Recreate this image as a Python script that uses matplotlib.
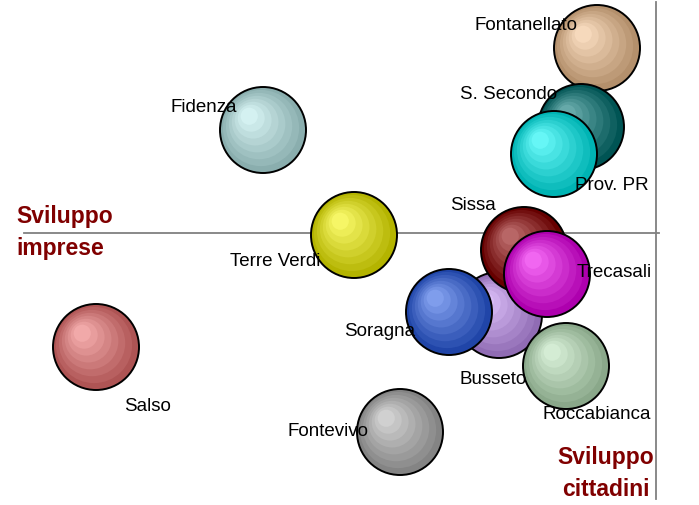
import numpy as np
import matplotlib
matplotlib.use("Agg")
import matplotlib.pyplot as plt
from matplotlib.patches import Circle
from matplotlib.colors import to_rgb

plt.rcParams['font.family'] = ['Liberation Sans', 'DejaVu Sans']

# dati: comuni, sviluppo cittadini (x), sviluppo imprese (y)
comuni = ["Salso", "Fidenza", "Terre Verdi", "Fontevivo", "Fontanellato",
          "S. Secondo", "Prov. PR", "Busseto", "Sissa", "Soragna",
          "Trecasali", "Roccabianca"]
x_vals = [-5.60, -3.93, -3.02, -2.56, -0.59, -0.75, -1.02, -1.57, -1.32, -2.07, -1.09, -0.90]
y_vals = [-1.14, 1.03, -0.02, -1.99, 1.85, 1.06, 0.79, -0.82, -0.17, -0.79, -0.41, -1.33]
colori = ["#E87070", "#B8E8E8", "#F0F000", "#B0B0B0", "#F0C090",
          "#007070", "#00F0F0", "#C090F0", "#880000", "#2A5CE0",
          "#E800E8", "#B8E0B8"]
# posizione etichette (offset in pixel, allineamento)
lab_off = [(28, -59, 'left'), (-26, 23, 'right'), (-34, -26, 'right'), (-31, 1, 'right'),
           (-20, 24, 'right'), (-24, 33, 'right'), (21, -31, 'left'), (28, -64, 'right'),
           (-28, 45, 'right'), (-34, -19, 'right'), (30, 2, 'left'), (-24, -48, 'left')]
raggio = 0.43

fig = plt.figure(figsize=(6.99, 5.06), dpi=100)
ax = fig.add_axes([0, 0, 1, 1])
ax.set_xlim(-6.56, 0.43)
ax.set_ylim(-2.72, 2.34)
ax.axis('off')

# assi
ax.plot([-6.32, 0.03], [0, 0], color='#808080', lw=1.3, zorder=1)
ax.plot([0, 0], [-2.66, 2.31], color='#808080', lw=1.3, zorder=1)

# bolle con sfumatura
N = 8
for i, (x, y, c) in enumerate(zip(x_vals, y_vals, colori)):
    base = np.array(to_rgb(c))
    dark = base * 0.75
    light = base + (1 - base) * 0.4
    z = 2 + i
    for k in range(N):
        t = k / (N - 1)
        rr = raggio * (1 - 0.8 * t)
        cx = x - 0.32 * raggio * t
        cy = y + 0.32 * raggio * t
        col = dark + (light - dark) * t
        ax.add_patch(Circle((cx, cy), rr, facecolor=col, edgecolor='none', zorder=z))
    ax.add_patch(Circle((x, y), raggio, facecolor='none', edgecolor='black', lw=1.4, zorder=z))

for nome, x, y, (dx, dy, ha) in zip(comuni, x_vals, y_vals, lab_off):
    ax.annotate(nome, (x, y), xytext=(dx, dy), textcoords='offset pixels',
                ha=ha, va='center', fontsize=13.5, color='black', zorder=30)

ax.text(0.023, 0.541, "Sviluppo\nimprese", transform=ax.transAxes, ha='left', va='center',
        fontsize=16.5, fontweight='bold', color='#800000', linespacing=1.5)
ax.text(0.936, 0.065, "Sviluppo\ncittadini", transform=ax.transAxes, ha='right', va='center',
        fontsize=16.5, fontweight='bold', color='#800000', linespacing=1.5, multialignment='center')

fig.savefig("out.png", dpi=100)
